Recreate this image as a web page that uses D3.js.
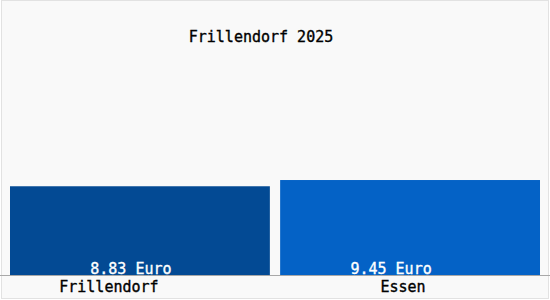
<!DOCTYPE html>
<html>
<head>
<meta charset="utf-8">
<script src="https://cdn.jsdelivr.net/npm/d3@7"></script>
<style>
  body { margin: 0; background: #ffffff; }
  text { font-family: "DejaVu Sans Mono", monospace; font-size: 15px; stroke-width: 0.35; }
</style>
</head>
<body>
<svg></svg>
<script>
const width = 550
const height = 300

const categories = ["Frillendorf", "Essen"]
const values = [8.83, 9.45]
const unit = "Euro"
const title = "Frillendorf 2025"
const colors = ["#034a94", "#0462c6"]
// labels in the reference sit a bit left of the bar centres
const labelShift = [-31, -7]
const valueShift = [-9, -19]

const baseline = 275

const svg = d3.select("svg")
  .attr("width", width)
  .attr("height", height)

svg.append("rect")
  .attr("x", 1.5)
  .attr("y", 0.5)
  .attr("width", width - 3)
  .attr("height", height - 2)
  .attr("fill", "#f9f9f9")
  .attr("stroke", "#e2e2e2")

const xScale = d3.scaleBand()
  .domain(categories)
  .range([10, 540])
  .paddingInner(0.038)

const yScale = d3.scaleLinear()
  .domain([0, 10])
  .range([baseline, 174.5])

svg.selectAll(".bar")
  .data(values)
  .enter()
  .append("rect")
  .attr("class", "bar")
  .attr("x", (d, i) => xScale(categories[i]))
  .attr("y", d => yScale(d))
  .attr("width", xScale.bandwidth())
  .attr("height", d => baseline - yScale(d))
  .attr("fill", (d, i) => colors[i])

svg.append("line")
  .attr("x1", 0)
  .attr("x2", width)
  .attr("y1", baseline + 0.5)
  .attr("y2", baseline + 0.5)
  .attr("stroke", "#a8a8a8")

svg.selectAll(".value")
  .data(values)
  .enter()
  .append("text")
  .attr("class", "value")
  .attr("x", (d, i) => xScale(categories[i]) + xScale.bandwidth() / 2 + valueShift[i])
  .attr("y", baseline - 1)
  .attr("text-anchor", "middle")
  .attr("fill", "#ffffff")
  .attr("stroke", "#ffffff")
  .text(d => d.toFixed(2) + " " + unit)

svg.selectAll(".cat")
  .data(categories)
  .enter()
  .append("text")
  .attr("class", "cat")
  .attr("x", (d, i) => xScale(d) + xScale.bandwidth() / 2 + labelShift[i])
  .attr("y", 292)
  .attr("text-anchor", "middle")
  .attr("fill", "#000000")
  .attr("stroke", "#000000")
  .text(d => d)

svg.append("text")
  .attr("x", 261)
  .attr("y", 42)
  .attr("text-anchor", "middle")
  .attr("fill", "#000000")
  .attr("stroke", "#000000")
  .text(title)
</script>
</body>
</html>
